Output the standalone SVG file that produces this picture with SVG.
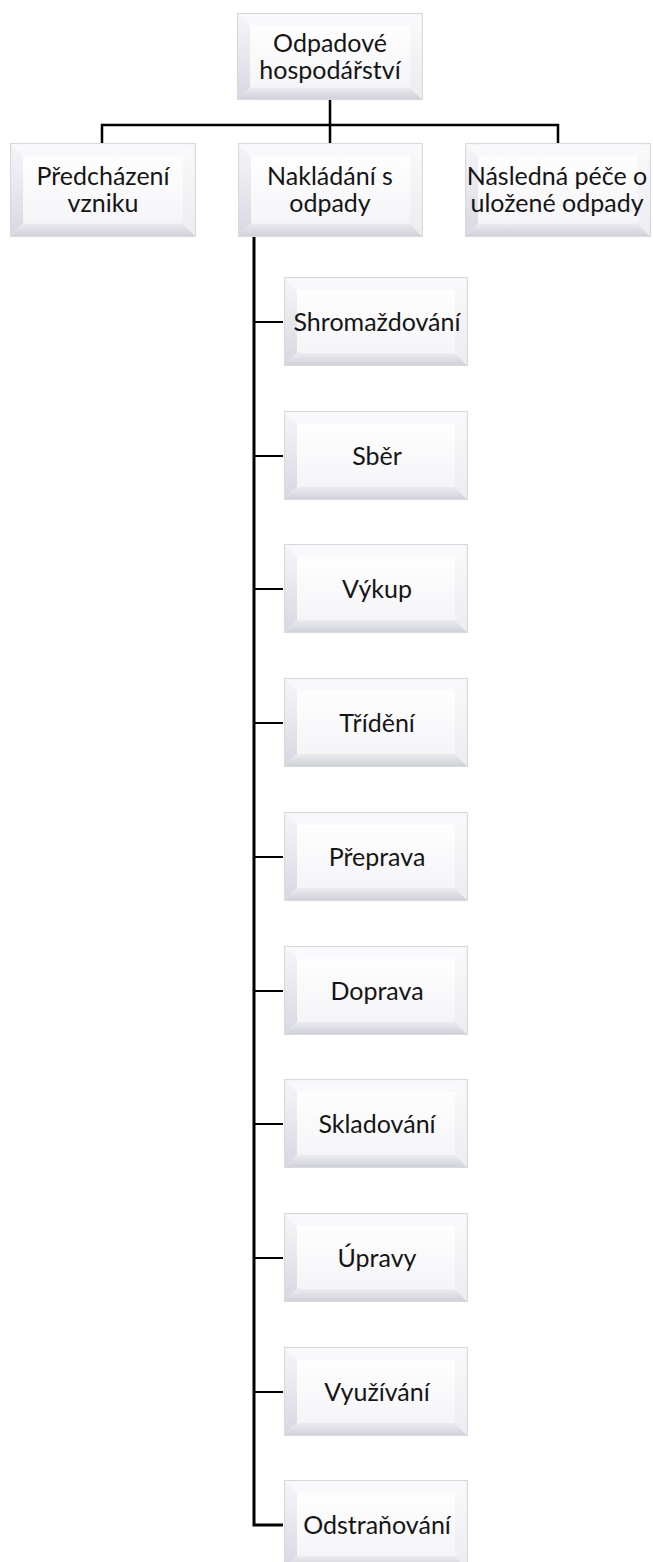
<svg xmlns="http://www.w3.org/2000/svg" xmlns:xlink="http://www.w3.org/1999/xlink" width="653" height="1562" viewBox="0 0 653 1562">
  <style>
    .lbl { font-family: Lato, "Open Sans", "Liberation Sans", sans-serif; font-size: 25px; font-weight: 400; fill: #151515; text-anchor: middle; }
    .con { fill: none; stroke: #000; stroke-linejoin: miter; }
    .top { stroke-width: 2.5; }
    .trunk { stroke-width: 3; }
    .branch { stroke-width: 2; }
  </style>
  <defs>
    <linearGradient id="gFace" x1="0" y1="0" x2="0" y2="1">
      <stop offset="0" stop-color="#fefefe"/>
      <stop offset="1" stop-color="#f5f5f8"/>
    </linearGradient>
    <linearGradient id="gLeft" x1="0" y1="0" x2="0" y2="1">
      <stop offset="0" stop-color="#f6f6f9"/>
      <stop offset="1" stop-color="#d7d7e2"/>
    </linearGradient>
    <linearGradient id="gBottom" x1="0" y1="0" x2="0" y2="1">
      <stop offset="0" stop-color="#ebebf0"/>
      <stop offset="1" stop-color="#cfcfd8"/>
    </linearGradient>
    <linearGradient id="gRight" x1="0" y1="0" x2="0" y2="1">
      <stop offset="0" stop-color="#fafafc"/>
      <stop offset="1" stop-color="#ececf1"/>
    </linearGradient>
    <symbol id="bevel" viewBox="0 0 184 89" preserveAspectRatio="none">
      <rect x="0" y="0" width="184" height="89" fill="#f7f7fa"/>
      <polygon points="0,0 184,0 171,13 13,13" fill="#f9f9fb"/>
      <polygon points="0,0 13,13 13,76 0,89" fill="url(#gLeft)"/>
      <polygon points="0,89 13,76 171,76 184,89" fill="url(#gBottom)"/>
      <polygon points="184,0 184,89 171,76 171,13" fill="url(#gRight)"/>
      <rect x="13" y="13" width="158" height="63" fill="url(#gFace)"/>
      <rect x="0.5" y="0.5" width="183" height="88" fill="none" stroke="#d8d8dd" stroke-width="1.2"/>
    </symbol>
  </defs>

  <g id="connectors">
    <path class="con top" d="M330 100V125 M102 143V125H558V143 M330 125V143"/>
    <path class="con trunk" d="M254 237V1525H283"/>
    <path class="con branch" d="M254 322H283 M254 456H283 M254 589H283 M254 723H283 M254 857H283 M254 991H283 M254 1124H283 M254 1258H283 M254 1392H283"/>
  </g>

  <g id="n-root">
    <use xlink:href="#bevel" href="#bevel" x="237" y="13" width="186" height="87"/>
    <text class="lbl" x="330" y="52">Odpadové<tspan x="330" dy="27">hospodářství</tspan></text>
  </g>

  <g id="n-predchazeni">
    <use xlink:href="#bevel" href="#bevel" x="10" y="143" width="186" height="94"/>
    <text class="lbl" x="103" y="185">Předcházení<tspan x="103" dy="27">vzniku</tspan></text>
  </g>
  <g id="n-nakladani">
    <use xlink:href="#bevel" href="#bevel" x="238" y="143" width="185" height="94"/>
    <text class="lbl" x="330" y="185">Nakládání s<tspan x="330" dy="27">odpady</tspan></text>
  </g>
  <g id="n-nasledna">
    <use xlink:href="#bevel" href="#bevel" x="465" y="143" width="186" height="94"/>
    <text class="lbl" x="557" y="185">Následná péče o<tspan x="557" dy="27">uložené odpady</tspan></text>
  </g>

  <g id="n-shromazdovani">
    <use xlink:href="#bevel" href="#bevel" x="284" y="277" width="184" height="89"/>
    <text class="lbl" x="377" y="331">Shromaždování</text>
  </g>
  <g id="n-sber">
    <use xlink:href="#bevel" href="#bevel" x="284" y="411" width="184" height="89"/>
    <text class="lbl" x="377" y="465">Sběr</text>
  </g>
  <g id="n-vykup">
    <use xlink:href="#bevel" href="#bevel" x="284" y="544" width="184" height="89"/>
    <text class="lbl" x="377" y="598">Výkup</text>
  </g>
  <g id="n-trideni">
    <use xlink:href="#bevel" href="#bevel" x="284" y="678" width="184" height="89"/>
    <text class="lbl" x="377" y="732">Třídění</text>
  </g>
  <g id="n-preprava">
    <use xlink:href="#bevel" href="#bevel" x="284" y="812" width="184" height="89"/>
    <text class="lbl" x="377" y="866">Přeprava</text>
  </g>
  <g id="n-doprava">
    <use xlink:href="#bevel" href="#bevel" x="284" y="946" width="184" height="89"/>
    <text class="lbl" x="377" y="1000">Doprava</text>
  </g>
  <g id="n-skladovani">
    <use xlink:href="#bevel" href="#bevel" x="284" y="1079" width="184" height="89"/>
    <text class="lbl" x="377" y="1133">Skladování</text>
  </g>
  <g id="n-upravy">
    <use xlink:href="#bevel" href="#bevel" x="284" y="1213" width="184" height="89"/>
    <text class="lbl" x="377" y="1267">Úpravy</text>
  </g>
  <g id="n-vyuzivani">
    <use xlink:href="#bevel" href="#bevel" x="284" y="1347" width="184" height="89"/>
    <text class="lbl" x="377" y="1401">Využívání</text>
  </g>
  <g id="n-odstranovani">
    <use xlink:href="#bevel" href="#bevel" x="284" y="1480" width="184" height="89"/>
    <text class="lbl" x="377" y="1534">Odstraňování</text>
  </g>
</svg>
